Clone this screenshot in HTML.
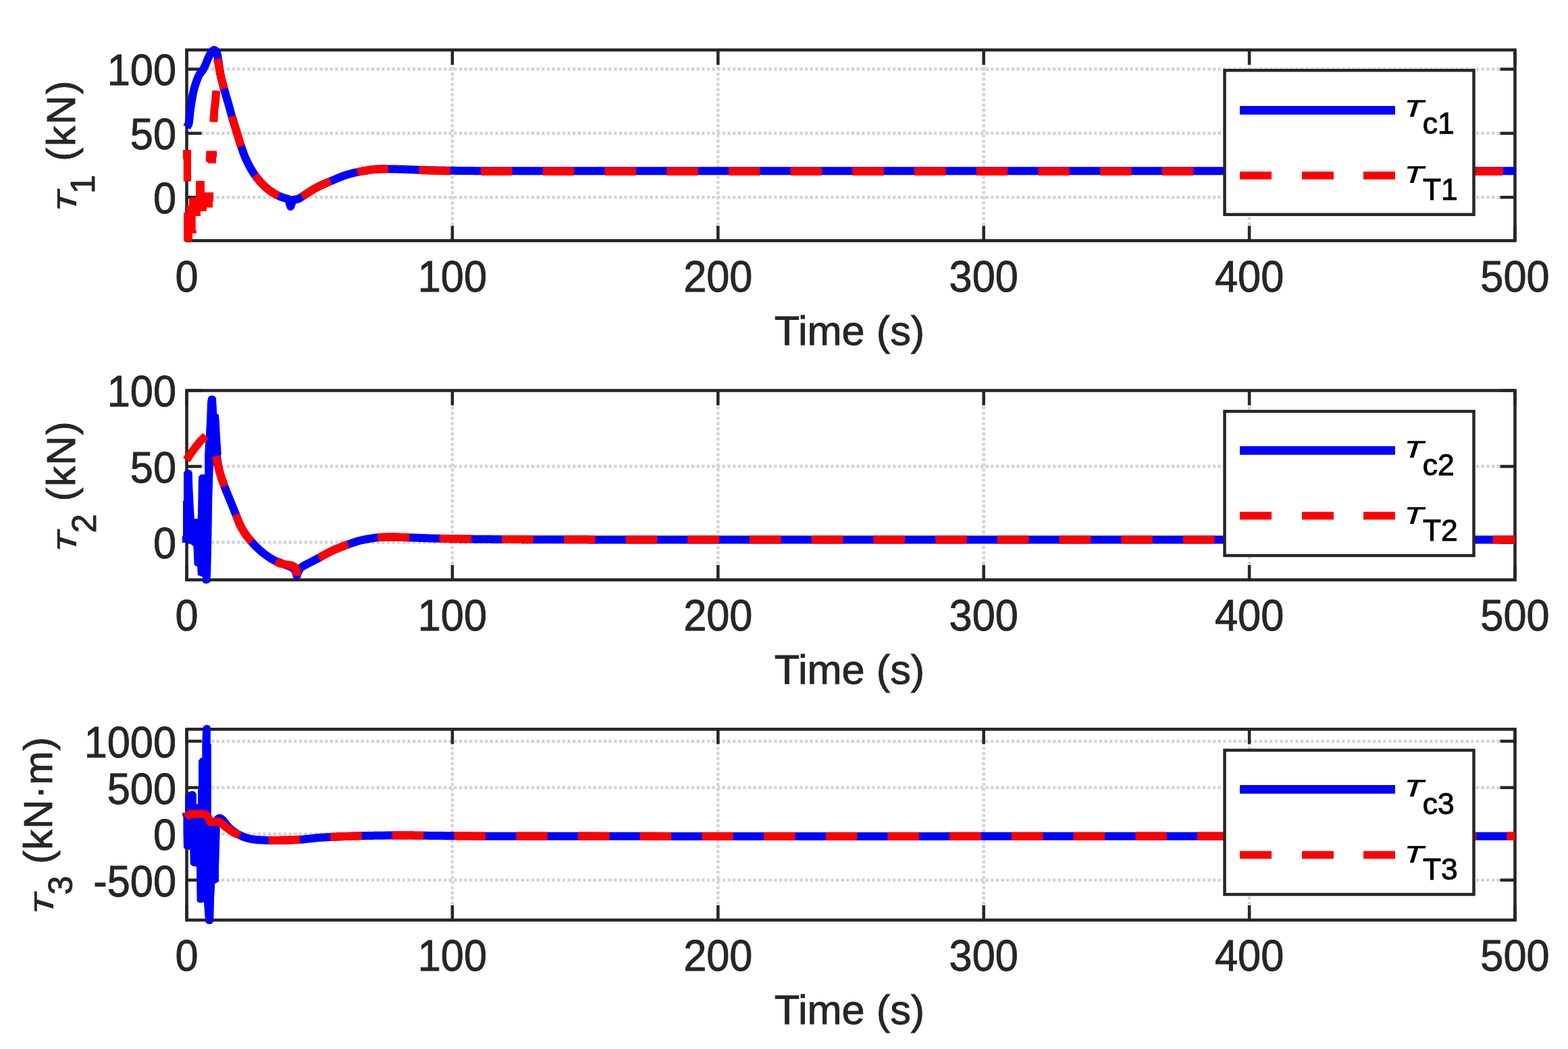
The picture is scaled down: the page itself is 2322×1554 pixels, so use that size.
<!DOCTYPE html><html><head><meta charset="utf-8"><title>Torque plots</title><style>html,body{margin:0;padding:0;background:#fff;overflow:hidden}svg{display:block}</style></head><body><svg width="2322" height="1554" viewBox="0 0 2322 1554">
<rect width="2322" height="1554" fill="#ffffff"/>
<path d="M669.90 356.50V74.00M1063.30 356.50V74.00M1456.70 356.50V74.00M1850.10 356.50V74.00" stroke="#d5d5d5" stroke-width="4.6" stroke-dasharray="4.5 3.145" stroke-dashoffset="0.11" fill="none"/>
<path d="M276.50 102.40H2243.50M276.50 197.40H2243.50M276.50 292.30H2243.50" stroke="#d5d5d5" stroke-width="4.6" stroke-dasharray="4.5 3.145" stroke-dashoffset="1.95" fill="none"/>
<path d="M276.50 356.50V334.50M276.50 74.00V96.00M669.90 356.50V334.50M669.90 74.00V96.00M1063.30 356.50V334.50M1063.30 74.00V96.00M1456.70 356.50V334.50M1456.70 74.00V96.00M1850.10 356.50V334.50M1850.10 74.00V96.00M2243.50 356.50V334.50M2243.50 74.00V96.00M276.50 102.40H298.50M2243.50 102.40H2221.50M276.50 197.40H298.50M2243.50 197.40H2221.50M276.50 292.30H298.50M2243.50 292.30H2221.50" stroke="#262626" stroke-width="4.5" fill="none"/>
<rect x="276.50" y="74.00" width="1967.00" height="282.50" fill="none" stroke="#262626" stroke-width="4.6"/>
<g font-family="'Liberation Sans', Arial, Helvetica, sans-serif" font-size="61.3" fill="#262626" stroke="#262626" stroke-width="0.9"><text transform="translate(276.50 431.80) scale(1 1.045)" text-anchor="middle">0</text><text transform="translate(669.90 431.80) scale(1 1.045)" text-anchor="middle">100</text><text transform="translate(1063.30 431.80) scale(1 1.045)" text-anchor="middle">200</text><text transform="translate(1456.70 431.80) scale(1 1.045)" text-anchor="middle">300</text><text transform="translate(1850.10 431.80) scale(1 1.045)" text-anchor="middle">400</text><text transform="translate(2243.50 431.80) scale(1 1.045)" text-anchor="middle">500</text><text transform="translate(261.00 126.20) scale(1 1.045)" text-anchor="end">100</text><text transform="translate(261.00 221.20) scale(1 1.045)" text-anchor="end">50</text><text transform="translate(261.00 316.10) scale(1 1.045)" text-anchor="end">0</text></g>
<text x="1258.00" y="510.70" font-family="'Liberation Sans', Arial, Helvetica, sans-serif" font-size="61.3" fill="#262626" stroke="#262626" stroke-width="0.9" text-anchor="middle">Time (s)</text>
<path d="M669.90 859.00V578.50M1063.30 859.00V578.50M1456.70 859.00V578.50M1850.10 859.00V578.50" stroke="#d5d5d5" stroke-width="4.6" stroke-dasharray="4.5 3.145" stroke-dashoffset="0.11" fill="none"/>
<path d="M276.50 690.90H2243.50M276.50 803.40H2243.50" stroke="#d5d5d5" stroke-width="4.6" stroke-dasharray="4.5 3.145" stroke-dashoffset="1.95" fill="none"/>
<path d="M276.50 859.00V837.00M276.50 578.50V600.50M669.90 859.00V837.00M669.90 578.50V600.50M1063.30 859.00V837.00M1063.30 578.50V600.50M1456.70 859.00V837.00M1456.70 578.50V600.50M1850.10 859.00V837.00M1850.10 578.50V600.50M2243.50 859.00V837.00M2243.50 578.50V600.50M276.50 578.50H298.50M2243.50 578.50H2221.50M276.50 690.90H298.50M2243.50 690.90H2221.50M276.50 803.40H298.50M2243.50 803.40H2221.50" stroke="#262626" stroke-width="4.5" fill="none"/>
<rect x="276.50" y="578.50" width="1967.00" height="280.50" fill="none" stroke="#262626" stroke-width="4.6"/>
<g font-family="'Liberation Sans', Arial, Helvetica, sans-serif" font-size="61.3" fill="#262626" stroke="#262626" stroke-width="0.9"><text transform="translate(276.50 934.30) scale(1 1.045)" text-anchor="middle">0</text><text transform="translate(669.90 934.30) scale(1 1.045)" text-anchor="middle">100</text><text transform="translate(1063.30 934.30) scale(1 1.045)" text-anchor="middle">200</text><text transform="translate(1456.70 934.30) scale(1 1.045)" text-anchor="middle">300</text><text transform="translate(1850.10 934.30) scale(1 1.045)" text-anchor="middle">400</text><text transform="translate(2243.50 934.30) scale(1 1.045)" text-anchor="middle">500</text><text transform="translate(261.00 602.30) scale(1 1.045)" text-anchor="end">100</text><text transform="translate(261.00 714.70) scale(1 1.045)" text-anchor="end">50</text><text transform="translate(261.00 827.20) scale(1 1.045)" text-anchor="end">0</text></g>
<text x="1258.00" y="1013.20" font-family="'Liberation Sans', Arial, Helvetica, sans-serif" font-size="61.3" fill="#262626" stroke="#262626" stroke-width="0.9" text-anchor="middle">Time (s)</text>
<path d="M669.90 1363.00V1080.30M1063.30 1363.00V1080.30M1456.70 1363.00V1080.30M1850.10 1363.00V1080.30" stroke="#d5d5d5" stroke-width="4.6" stroke-dasharray="4.5 3.145" stroke-dashoffset="0.11" fill="none"/>
<path d="M276.50 1098.10H2243.50M276.50 1166.80H2243.50M276.50 1235.50H2243.50M276.50 1303.70H2243.50" stroke="#d5d5d5" stroke-width="4.6" stroke-dasharray="4.5 3.145" stroke-dashoffset="1.95" fill="none"/>
<path d="M276.50 1363.00V1341.00M276.50 1080.30V1102.30M669.90 1363.00V1341.00M669.90 1080.30V1102.30M1063.30 1363.00V1341.00M1063.30 1080.30V1102.30M1456.70 1363.00V1341.00M1456.70 1080.30V1102.30M1850.10 1363.00V1341.00M1850.10 1080.30V1102.30M2243.50 1363.00V1341.00M2243.50 1080.30V1102.30M276.50 1098.10H298.50M2243.50 1098.10H2221.50M276.50 1166.80H298.50M2243.50 1166.80H2221.50M276.50 1235.50H298.50M2243.50 1235.50H2221.50M276.50 1303.70H298.50M2243.50 1303.70H2221.50" stroke="#262626" stroke-width="4.5" fill="none"/>
<rect x="276.50" y="1080.30" width="1967.00" height="282.70" fill="none" stroke="#262626" stroke-width="4.6"/>
<g font-family="'Liberation Sans', Arial, Helvetica, sans-serif" font-size="61.3" fill="#262626" stroke="#262626" stroke-width="0.9"><text transform="translate(276.50 1438.30) scale(1 1.045)" text-anchor="middle">0</text><text transform="translate(669.90 1438.30) scale(1 1.045)" text-anchor="middle">100</text><text transform="translate(1063.30 1438.30) scale(1 1.045)" text-anchor="middle">200</text><text transform="translate(1456.70 1438.30) scale(1 1.045)" text-anchor="middle">300</text><text transform="translate(1850.10 1438.30) scale(1 1.045)" text-anchor="middle">400</text><text transform="translate(2243.50 1438.30) scale(1 1.045)" text-anchor="middle">500</text><text transform="translate(261.00 1121.90) scale(1 1.045)" text-anchor="end">1000</text><text transform="translate(261.00 1190.60) scale(1 1.045)" text-anchor="end">500</text><text transform="translate(261.00 1259.30) scale(1 1.045)" text-anchor="end">0</text><text transform="translate(261.00 1327.50) scale(1 1.045)" text-anchor="end">-500</text></g>
<text x="1258.00" y="1517.20" font-family="'Liberation Sans', Arial, Helvetica, sans-serif" font-size="61.3" fill="#262626" stroke="#262626" stroke-width="0.9" text-anchor="middle">Time (s)</text>
<path d="M276.50 188.50L277.48 186.97L278.45 185.43L279.30 183.50L279.69 182.06L279.99 180.41L280.24 178.57L280.44 176.61L280.62 174.55L280.78 172.43L280.96 170.31L281.16 168.22L281.40 166.20L281.66 164.31L281.92 162.39L282.20 160.44L282.48 158.49L282.76 156.53L283.06 154.57L283.36 152.63L283.67 150.72L283.98 148.84L284.30 147.00L284.67 144.96L285.04 142.94L285.42 140.94L285.80 138.96L286.20 137.03L286.62 135.14L287.05 133.29L287.50 131.50L288.03 129.54L288.59 127.64L289.16 125.81L289.75 124.02L290.36 122.25L291.00 120.50L291.61 118.84L292.23 117.20L292.86 115.58L293.53 113.99L294.24 112.46L295.00 111.00L295.94 109.50L296.96 108.08L298.02 106.72L299.05 105.37L300.00 104.00L300.97 102.42L301.86 100.87L302.72 99.26L303.60 97.50L304.36 95.83L305.11 94.01L305.87 92.10L306.63 90.17L307.40 88.28L308.20 86.50L309.07 84.61L309.95 82.73L310.85 80.92L311.79 79.25L312.80 77.80L314.23 76.06L315.75 74.59L317.20 74.00L318.49 74.54L319.73 75.83L320.80 77.50L321.38 78.82L321.83 80.38L322.20 82.13L322.51 84.02L322.79 85.99L323.08 88.01L323.40 90.00L323.68 91.70L323.94 93.45L324.18 95.25L324.41 97.09L324.64 98.96L324.89 100.86L325.14 102.78L325.43 104.72L325.74 106.66L326.10 108.60L326.47 110.41L326.86 112.25L327.29 114.11L327.73 115.99L328.19 117.88L328.67 119.79L329.17 121.69L329.67 123.60L330.17 125.51L330.68 127.42L331.19 129.32L331.70 131.20L332.21 133.08L332.74 134.97L333.28 136.87L333.82 138.76L334.38 140.65L334.93 142.54L335.49 144.42L336.04 146.30L336.60 148.17L337.14 150.02L337.68 151.87L338.20 153.70L338.72 155.56L339.24 157.40L339.74 159.22L340.23 161.03L340.72 162.83L341.21 164.63L341.71 166.43L342.21 168.25L342.73 170.08L343.25 171.92L343.80 173.80L344.32 175.54L344.85 177.31L345.39 179.09L345.94 180.89L346.50 182.70L347.06 184.52L347.63 186.34L348.20 188.16L348.77 189.97L349.34 191.78L349.90 193.57L350.45 195.34L351.00 197.10L351.60 199.04L352.18 200.98L352.76 202.89L353.32 204.80L353.89 206.70L354.46 208.60L355.04 210.48L355.63 212.36L356.23 214.24L356.85 216.12L357.50 218.00L358.10 219.73L358.71 221.45L359.31 223.17L359.93 224.88L360.55 226.60L361.19 228.31L361.85 230.02L362.52 231.72L363.22 233.42L363.95 235.12L364.71 236.81L365.50 238.50L366.29 240.14L367.10 241.78L367.94 243.43L368.79 245.07L369.66 246.72L370.56 248.36L371.48 249.99L372.43 251.61L373.40 253.22L374.40 254.82L375.44 256.40L376.50 257.96L377.60 259.50L378.70 260.99L379.84 262.48L381.01 263.97L382.21 265.46L383.45 266.94L384.70 268.41L385.99 269.85L387.28 271.28L388.60 272.67L389.93 274.03L391.27 275.34L392.61 276.62L393.95 277.84L395.30 279.00L396.85 280.27L398.42 281.49L400.03 282.67L401.65 283.79L403.29 284.88L404.93 285.91L406.57 286.89L408.20 287.82L409.82 288.70L411.43 289.53L413.00 290.30L414.79 291.10L416.55 291.78L418.31 292.38L420.05 292.92L421.78 293.43L423.52 293.93L425.26 294.44L427.00 295.00L427.55 296.83L428.10 298.67L428.65 300.50L429.20 302.33L429.75 304.17L430.30 306.00L430.92 304.33L431.53 302.67L432.15 301.00L432.77 299.33L433.38 297.67L434.00 296.00L435.62 295.77L437.27 295.58L438.90 295.37L440.49 295.06L442.00 294.60L443.61 293.82L445.06 292.85L446.58 291.74L448.40 290.50L449.68 289.68L451.10 288.77L452.64 287.77L454.27 286.70L455.99 285.59L457.76 284.45L459.57 283.30L461.40 282.16L463.22 281.04L465.03 279.96L466.79 278.94L468.50 278.00L470.17 277.12L471.82 276.28L473.44 275.48L475.07 274.71L476.69 273.96L478.32 273.23L479.98 272.50L481.66 271.77L483.39 271.04L485.16 270.28L487.00 269.50L488.58 268.82L490.20 268.13L491.84 267.42L493.52 266.69L495.23 265.96L496.96 265.23L498.71 264.49L500.49 263.76L502.27 263.03L504.07 262.32L505.89 261.62L507.70 260.94L509.53 260.29L511.35 259.66L513.18 259.06L515.00 258.50L516.89 257.95L518.84 257.42L520.82 256.91L522.83 256.41L524.87 255.94L526.91 255.48L528.96 255.04L531.00 254.63L533.03 254.23L535.03 253.85L537.00 253.49L538.92 253.15L540.80 252.83L542.60 252.53L544.34 252.26L546.00 252.00L548.16 251.68L550.13 251.41L551.99 251.19L553.79 251.01L555.58 250.85L557.44 250.72L559.43 250.60L561.60 250.50L563.25 250.44L564.97 250.39L566.76 250.36L568.61 250.34L570.51 250.33L572.45 250.34L574.43 250.35L576.44 250.38L578.47 250.40L580.51 250.44L582.56 250.48L584.60 250.52L586.64 250.57L588.65 250.61L590.64 250.66L592.60 250.70L594.53 250.74L596.43 250.80L598.32 250.85L600.20 250.92L602.08 250.99L603.95 251.06L605.83 251.13L607.71 251.21L609.61 251.29L611.52 251.37L613.45 251.44L615.41 251.52L617.40 251.60L619.43 251.67L621.49 251.74L623.60 251.80L625.35 251.85L627.14 251.90L628.95 251.95L630.79 252.00L632.66 252.04L634.54 252.09L636.45 252.14L638.37 252.18L640.31 252.23L642.27 252.27L644.23 252.32L646.21 252.36L648.20 252.40L650.19 252.45L652.18 252.49L654.18 252.53L656.18 252.56L658.17 252.60L660.17 252.64L662.15 252.67L664.13 252.71L666.10 252.74L668.06 252.77L670.00 252.80L671.93 252.83L673.84 252.86L675.73 252.88L677.60 252.91L679.47 252.93L681.33 252.95L683.18 252.97L685.03 252.99L686.88 253.01L688.73 253.03L690.59 253.04L692.45 253.06L694.33 253.07L696.22 253.09L698.13 253.10L700.07 253.11L702.02 253.13L704.00 253.14L706.01 253.15L708.05 253.16L710.13 253.17L712.24 253.18L714.40 253.19L716.60 253.20L718.28 253.21L719.94 253.21L721.57 253.22L723.18 253.22L724.78 253.23L726.36 253.23L727.92 253.24L729.48 253.24L731.03 253.24L732.59 253.24L734.14 253.24L735.69 253.24L737.26 253.25L738.83 253.25L740.42 253.25L742.02 253.24L743.65 253.24L745.30 253.24L746.97 253.24L748.67 253.24L750.41 253.24L752.18 253.24L753.99 253.23L755.84 253.23L757.74 253.23L759.69 253.23L761.69 253.23L763.74 253.22L765.85 253.22L768.02 253.22L770.26 253.22L772.56 253.21L774.94 253.21L777.38 253.21L779.91 253.21L782.51 253.21L785.20 253.20L787.98 253.20L790.84 253.20L793.80 253.20L796.85 253.20L800.00 253.20L809.81 253.20L820.58 253.20L832.28 253.20L844.89 253.20L858.39 253.20L872.74 253.20L887.93 253.20L903.93 253.20L920.72 253.20L938.26 253.20L956.55 253.20L975.54 253.20L995.23 253.20L1015.57 253.20L1036.56 253.20L1058.16 253.20L1080.34 253.20L1103.10 253.20L1126.39 253.20L1150.20 253.20L1174.50 253.20L1199.26 253.20L1224.47 253.20L1250.10 253.20L1276.12 253.20L1302.50 253.20L1329.24 253.20L1356.29 253.20L1383.63 253.20L1411.25 253.20L1439.11 253.20L1467.19 253.20L1495.47 253.20L1523.92 253.20L1552.51 253.20L1581.23 253.20L1610.05 253.20L1638.94 253.20L1667.88 253.20L1696.85 253.20L1725.81 253.20L1754.76 253.20L1783.65 253.20L1812.47 253.20L1841.19 253.20L1869.78 253.20L1898.23 253.20L1926.51 253.20L1954.59 253.20L1982.45 253.20L2010.07 253.20L2037.41 253.20L2064.46 253.20L2091.19 253.20L2117.58 253.20L2143.60 253.20L2169.23 253.20L2194.43 253.20L2219.20 253.20L2243.50 253.20" stroke="#0000ff" stroke-width="12.0" fill="none" stroke-linejoin="round" stroke-linecap="butt"/>
<path d="M712.10 253.98L712.24 253.98L714.40 253.99L716.60 254.00L718.28 254.01L719.94 254.02L721.57 254.02L723.18 254.03L724.78 254.04L726.36 254.04L727.92 254.04L729.48 254.05L731.03 254.05L732.59 254.05L734.14 254.05L735.69 254.06L737.26 254.06L738.83 254.06L740.42 254.06L742.02 254.06L743.65 254.05L745.30 254.05L746.97 254.05L748.67 254.05L750.41 254.05L752.18 254.05L753.99 254.04L755.84 254.04L757.74 254.04L758.60 254.04M803.80 254.00L809.81 254.00L820.58 254.00L832.28 254.00L844.89 254.00L850.30 254.00M895.50 254.00L903.93 254.00L920.72 254.00L938.26 254.00L942.00 254.00M987.20 254.00L995.23 254.00L1015.57 254.00L1033.70 254.00M1078.90 254.00L1080.34 254.00L1103.10 254.00L1125.40 254.00M1170.60 254.00L1174.50 254.00L1199.26 254.00L1217.10 254.00M1262.30 254.00L1276.12 254.00L1302.50 254.00L1308.80 254.00M1354.00 254.00L1356.29 254.00L1383.63 254.00L1400.50 254.00M1445.70 254.00L1467.19 254.00L1492.20 254.00M1537.40 254.00L1552.51 254.00L1581.23 254.00L1583.90 254.00M1629.10 254.00L1638.94 254.00L1667.88 254.00L1675.60 254.00M1720.80 254.00L1725.81 254.00L1754.76 254.00L1767.30 254.00M1812.50 254.00L1841.19 254.00L1859.00 254.00M1904.20 254.00L1926.51 254.00L1950.70 254.00M1995.90 254.00L2010.07 254.00L2037.41 254.00L2042.40 254.00M2087.60 254.00L2091.19 254.00L2117.58 254.00L2134.10 254.00M2179.30 254.00L2194.43 254.00L2219.20 254.00L2225.80 254.00M321.60 87.23L321.76 87.85L322.23 89.57L322.70 91.30L323.16 93.09L323.60 95.00L323.96 96.76L324.29 98.57L324.61 100.45L324.94 102.38L325.28 104.39L325.66 106.46L326.10 108.60L326.47 110.29L326.87 112.04L327.29 113.86L327.74 115.73L328.20 117.63L328.68 119.56L329.17 121.51L329.67 123.47L330.18 125.43L330.68 127.38L331.19 129.30L331.70 131.20M343.40 172.42L343.80 173.80L344.32 175.54L344.85 177.31L345.39 179.09L345.94 180.89L346.50 182.70L347.06 184.52L347.63 186.34L348.20 188.16L348.77 189.97L349.34 191.78L349.90 193.57L350.45 195.34L351.00 197.10L351.60 199.04L352.18 200.98L352.76 202.89L353.32 204.80L353.89 206.70L354.46 208.60L355.04 210.48L355.63 212.36L356.23 214.24L356.85 216.12L357.10 216.84M377.70 259.64L378.70 260.99L379.84 262.48L381.01 263.97L382.21 265.46L383.45 266.94L384.70 268.41L385.99 269.85L387.28 271.28L388.60 272.67L389.93 274.03L391.27 275.34L392.61 276.62L393.95 277.84L395.30 279.00L396.84 280.27L398.41 281.49L399.99 282.67L401.59 283.80L403.21 284.89L404.84 285.92L406.47 286.90L408.10 287.83L409.74 288.71L411.37 289.53L412.10 289.88M447.40 291.20L448.40 290.50L449.68 289.68L451.10 288.77L452.64 287.77L454.27 286.70L455.99 285.59L457.76 284.45L459.57 283.30L461.40 282.16L463.22 281.04L465.03 279.96L466.79 278.94L468.50 278.00L470.17 277.12L471.82 276.28L473.44 275.48L475.07 274.71L476.69 273.96L478.32 273.23L479.98 272.50L481.66 271.77L483.39 271.04L485.16 270.28L487.00 269.50L488.58 268.82L489.50 268.43M529.00 255.04L531.00 254.63L533.03 254.23L535.03 253.85L537.00 253.49L538.92 253.15L540.80 252.83L542.60 252.53L544.34 252.26L546.00 252.00L548.16 251.68L550.13 251.41L551.99 251.19L553.79 251.00L555.58 250.84L557.44 250.71L559.43 250.60L561.60 250.50L563.25 250.44L564.97 250.40L566.76 250.38L568.61 250.37L570.51 250.38L572.45 250.40L574.43 250.42L574.90 250.43M620.50 252.08L621.49 252.12L623.60 252.20L625.35 252.26L627.14 252.32L628.95 252.38L630.79 252.44L632.66 252.51L634.54 252.57L636.45 252.63L638.37 252.69L640.31 252.75L642.27 252.80L644.23 252.86L646.21 252.92L648.20 252.98L650.19 253.03L652.18 253.09L654.18 253.14L656.18 253.19L658.17 253.24L660.17 253.29L662.15 253.33L664.13 253.38L666.10 253.42L666.80 253.44" stroke="#ff0000" stroke-width="12.0" fill="none" stroke-linejoin="round" stroke-linecap="butt"/>
<path d="M320.20 134.30L319.00 150.00L317.20 165.00L316.40 180.70" stroke="#ff0000" stroke-width="12.0" fill="none" stroke-linejoin="round" stroke-linecap="butt"/>
<path d="M290.00 268.00L303.00 268.00L303.00 285.00L316.00 285.00L316.00 299.00L315.00 299.00L315.00 307.60L306.00 307.60L306.00 312.70L297.00 312.70L297.00 320.00L289.70 320.00L289.70 341.00L290.70 341.00L290.70 345.70L285.00 345.70L285.00 357.50L272.00 357.50L272.00 314.80L275.80 314.80L275.80 304.00L280.00 304.00L280.00 292.70L290.00 292.70ZM305.50 223.50L320.50 223.50L321.20 226.00L321.20 233.00L320.00 233.00L320.00 242.00L308.00 242.00L308.00 240.00L305.00 240.00L305.00 232.00ZM271.00 222.00L283.00 222.00L283.00 268.80L271.80 268.80L271.80 236.00L271.00 236.00Z" fill="#ff0000"/>
<path d="M308.00 589.50L309.50 587.00L313.70 585.80L318.00 587.00L320.00 589.50L321.00 612.50L323.90 614.40L324.80 624.00L325.80 643.40L326.80 658.80L327.70 672.30L326.00 680.00L316.00 690.00L315.50 700.00L314.20 741.00L313.40 794.00L312.20 847.50L311.30 862.50L306.00 864.80L300.90 863.70L299.70 854.40L292.80 852.00L292.20 839.40L287.60 837.00L286.40 809.20L280.00 804.00L269.90 804.00L269.90 794.00L271.00 794.00L271.00 742.00L272.00 742.00L272.00 700.40L274.00 697.00L278.40 695.60L283.00 697.00L284.70 700.00L285.30 720.00L286.40 743.00L287.60 764.00L287.60 768.50L292.80 768.50L293.40 738.60L294.00 706.20L297.40 702.70L303.20 702.70L303.10 674.00L304.10 657.00L306.00 624.00L307.00 597.00Z" fill="#0000ff"/>
<path d="M313.70 592.00L313.83 593.86L313.95 595.73L314.07 597.58L314.19 599.44L314.31 601.30L314.43 603.15L314.55 605.01L314.67 606.87L314.79 608.73L314.92 610.60L315.04 612.47L315.18 614.34L315.31 616.22L315.45 618.11L315.60 620.00L315.75 621.85L315.90 623.72L316.06 625.61L316.22 627.51L316.39 629.41L316.55 631.32L316.72 633.24L316.90 635.15L317.07 637.05L317.25 638.95L317.42 640.84L317.60 642.71L317.78 644.57L317.95 646.40L318.13 648.22L318.30 650.00L318.49 651.93L318.66 653.84L318.84 655.72L319.01 657.59L319.18 659.43L319.35 661.26L319.53 663.09L319.71 664.90L319.90 666.71L320.11 668.52L320.32 670.34L320.55 672.16L320.80 674.00L321.06 675.85L321.32 677.71L321.59 679.58L321.86 681.44L322.14 683.31L322.44 685.17L322.75 687.03L323.07 688.88L323.41 690.73L323.77 692.57L324.16 694.39L324.57 696.20L325.00 698.00L325.49 699.88L326.00 701.73L326.55 703.58L327.12 705.41L327.71 707.23L328.31 709.05L328.94 710.85L329.57 712.66L330.22 714.47L330.88 716.27L331.54 718.08L332.20 719.90L332.89 721.76L333.60 723.62L334.32 725.49L335.06 727.35L335.82 729.22L336.58 731.08L337.34 732.94L338.10 734.79L338.86 736.64L339.62 738.47L340.37 740.29L341.10 742.10L341.85 743.97L342.60 745.83L343.35 747.68L344.10 749.53L344.85 751.37L345.59 753.20L346.32 755.02L347.05 756.82L347.78 758.60L348.49 760.36L349.20 762.10L349.96 764.01L350.70 765.91L351.42 767.79L352.13 769.65L352.85 771.49L353.57 773.30L354.32 775.07L355.09 776.81L355.90 778.50L356.75 780.18L357.62 781.81L358.51 783.40L359.42 784.96L360.36 786.49L361.31 788.01L362.29 789.51L363.30 791.00L364.32 792.46L365.35 793.89L366.39 795.28L367.46 796.67L368.57 798.05L369.72 799.44L370.93 800.86L372.20 802.30L373.37 803.60L374.58 804.93L375.85 806.29L377.15 807.66L378.48 809.04L379.85 810.42L381.24 811.79L382.66 813.14L384.09 814.46L385.54 815.75L387.00 817.00L388.53 818.25L390.12 819.52L391.77 820.78L393.44 822.03L395.14 823.26L396.83 824.45L398.51 825.59L400.15 826.66L401.74 827.66L403.26 828.58L404.70 829.40L406.38 830.27L407.95 830.98L409.47 831.59L410.96 832.15L412.45 832.70L414.00 833.30L415.66 833.96L417.34 834.62L419.04 835.27L420.73 835.92L422.39 836.57L424.00 837.20L425.72 837.85L427.44 838.48L429.11 839.10L430.68 839.77L432.10 840.50L433.77 841.50L435.23 842.59L436.50 844.00L437.32 845.48L437.99 847.24L438.56 849.16L439.11 851.12L439.70 853.00L440.22 851.36L440.71 849.68L441.21 848.02L441.79 846.44L442.50 845.00L443.42 843.60L444.45 842.34L445.62 841.17L447.00 840.00L448.25 839.10L449.67 838.24L451.21 837.39L452.83 836.56L454.48 835.74L456.12 834.92L457.70 834.10L459.23 833.29L460.74 832.51L462.26 831.73L463.79 830.95L465.33 830.16L466.90 829.35L468.50 828.50L470.12 827.62L471.78 826.69L473.46 825.74L475.17 824.78L476.88 823.81L478.60 822.85L480.31 821.91L482.00 821.00L483.61 820.15L485.18 819.32L486.74 818.51L488.30 817.70L489.89 816.90L491.52 816.11L493.22 815.31L495.00 814.50L496.54 813.83L498.14 813.15L499.79 812.46L501.49 811.77L503.22 811.08L504.97 810.39L506.75 809.71L508.52 809.04L510.30 808.38L512.06 807.73L513.79 807.11L515.50 806.50L517.41 805.83L519.29 805.16L521.15 804.52L523.01 803.88L524.87 803.27L526.74 802.67L528.62 802.09L530.54 801.54L532.50 801.00L534.50 800.50L536.26 800.09L538.06 799.69L539.90 799.30L541.77 798.93L543.66 798.58L545.57 798.24L547.48 797.92L549.39 797.62L551.28 797.33L553.16 797.07L555.01 796.82L556.83 796.60L558.60 796.40L560.56 796.20L562.46 796.04L564.32 795.90L566.15 795.79L567.96 795.70L569.79 795.64L571.64 795.59L573.53 795.55L575.48 795.52L577.50 795.50L579.29 795.49L581.10 795.50L582.93 795.53L584.79 795.57L586.67 795.62L588.57 795.68L590.51 795.75L592.47 795.83L594.47 795.91L596.50 795.99L598.57 796.07L600.67 796.15L602.82 796.23L605.00 796.30L606.73 796.36L608.50 796.41L610.31 796.47L612.14 796.54L614.00 796.60L615.89 796.67L617.81 796.74L619.75 796.81L621.70 796.88L623.68 796.95L625.67 797.03L627.67 797.10L629.69 797.17L631.71 797.24L633.74 797.31L635.77 797.38L637.80 797.45L639.83 797.51L641.86 797.57L643.89 797.64L645.90 797.69L647.91 797.75L649.90 797.80L651.78 797.85L653.65 797.89L655.50 797.93L657.34 797.97L659.17 798.01L660.99 798.05L662.81 798.09L664.64 798.12L666.46 798.16L668.29 798.19L670.12 798.22L671.96 798.25L673.82 798.28L675.69 798.31L677.58 798.34L679.49 798.37L681.42 798.39L683.37 798.42L685.36 798.45L687.37 798.47L689.42 798.50L691.51 798.52L693.63 798.55L695.79 798.57L698.00 798.60L699.68 798.62L701.39 798.64L703.11 798.66L704.86 798.67L706.63 798.69L708.42 798.71L710.23 798.73L712.06 798.74L713.91 798.76L715.77 798.78L717.65 798.79L719.55 798.81L721.47 798.82L723.39 798.84L725.34 798.85L727.30 798.87L729.27 798.88L731.25 798.90L733.25 798.91L735.25 798.92L737.27 798.94L739.30 798.95L741.34 798.96L743.38 798.97L745.44 798.99L747.50 799.00L749.57 799.01L751.65 799.02L753.73 799.03L755.82 799.04L757.91 799.05L760.00 799.07L762.10 799.08L764.20 799.09L766.31 799.10L768.41 799.11L770.52 799.12L772.62 799.13L774.73 799.14L776.83 799.15L778.94 799.16L781.04 799.16L783.13 799.17L785.23 799.18L787.32 799.19L789.40 799.20L791.27 799.21L793.10 799.22L794.91 799.22L796.69 799.23L798.44 799.24L800.17 799.24L801.88 799.25L803.58 799.25L805.25 799.26L806.91 799.27L808.56 799.27L810.19 799.28L811.82 799.28L813.44 799.29L815.05 799.29L816.66 799.29L818.27 799.30L819.87 799.30L821.48 799.31L823.10 799.31L824.72 799.31L826.34 799.32L827.98 799.32L829.63 799.32L831.29 799.33L832.97 799.33L834.67 799.33L836.38 799.34L838.12 799.34L839.88 799.34L841.66 799.34L843.47 799.35L845.31 799.35L847.18 799.35L849.08 799.35L851.02 799.35L853.00 799.36L855.01 799.36L857.06 799.36L859.16 799.36L861.30 799.37L863.49 799.37L865.72 799.37L868.00 799.37L870.34 799.37L872.73 799.38L875.17 799.38L877.68 799.38L880.24 799.38L882.86 799.38L885.55 799.39L888.30 799.39L891.12 799.39L894.01 799.39L896.97 799.40L900.00 799.40L910.39 799.41L921.60 799.42L933.58 799.42L946.33 799.43L959.83 799.44L974.05 799.44L988.97 799.45L1004.58 799.45L1020.85 799.46L1037.76 799.46L1055.28 799.47L1073.41 799.47L1092.12 799.47L1111.39 799.47L1131.19 799.48L1151.51 799.48L1172.33 799.48L1193.62 799.48L1215.37 799.48L1237.55 799.48L1260.14 799.48L1283.13 799.48L1306.49 799.48L1330.20 799.48L1354.24 799.48L1378.60 799.48L1403.24 799.47L1428.15 799.47L1453.31 799.47L1478.70 799.47L1504.29 799.47L1530.07 799.46L1556.01 799.46L1582.10 799.46L1608.32 799.45L1634.63 799.45L1661.03 799.45L1687.50 799.45L1714.00 799.44L1740.52 799.44L1767.05 799.44L1793.55 799.43L1820.01 799.43L1846.41 799.43L1872.73 799.43L1898.94 799.42L1925.03 799.42L1950.98 799.42L1976.76 799.41L2002.35 799.41L2027.74 799.41L2052.90 799.41L2077.81 799.41L2102.45 799.40L2126.80 799.40L2150.85 799.40L2174.56 799.40L2197.92 799.40L2220.90 799.40L2243.50 799.40" stroke="#0000ff" stroke-width="12.0" fill="none" stroke-linejoin="round" stroke-linecap="butt"/>
<path d="M743.30 798.97L743.38 798.97L745.44 798.99L747.50 799.00L749.57 799.01L751.65 799.02L753.73 799.03L755.82 799.04L757.91 799.05L760.00 799.07L762.10 799.08L764.20 799.09L766.31 799.10L768.41 799.11L770.52 799.12L772.62 799.13L774.73 799.14L776.83 799.15L778.94 799.16L781.04 799.16L783.13 799.17L785.23 799.18L787.32 799.19L789.40 799.20L789.80 799.20M835.00 799.33L836.38 799.34L838.12 799.34L839.88 799.34L841.66 799.34L843.47 799.35L845.31 799.35L847.18 799.35L849.08 799.35L851.02 799.35L853.00 799.36L855.01 799.36L857.06 799.36L859.16 799.36L861.30 799.37L863.49 799.37L865.72 799.37L868.00 799.37L870.34 799.37L872.73 799.38L875.17 799.38L877.68 799.38L880.24 799.38L881.50 799.38M926.70 799.42L933.58 799.42L946.33 799.43L959.83 799.44L973.20 799.44M1018.40 799.46L1020.85 799.46L1037.76 799.46L1055.28 799.47L1064.90 799.47M1110.10 799.47L1111.39 799.47L1131.19 799.48L1151.51 799.48L1156.60 799.48M1201.80 799.48L1215.37 799.48L1237.55 799.48L1248.30 799.48M1293.50 799.48L1306.49 799.48L1330.20 799.48L1340.00 799.48M1385.20 799.47L1403.24 799.47L1428.15 799.47L1431.70 799.47M1476.90 799.47L1478.70 799.47L1504.29 799.47L1523.40 799.46M1568.60 799.46L1582.10 799.46L1608.32 799.45L1615.10 799.45M1660.30 799.45L1661.03 799.45L1687.50 799.45L1706.80 799.44M1752.00 799.44L1767.05 799.44L1793.55 799.43L1798.50 799.43M1843.70 799.43L1846.41 799.43L1872.73 799.43L1890.20 799.42M1935.40 799.42L1950.98 799.42L1976.76 799.41L1981.90 799.41M2027.10 799.41L2027.74 799.41L2052.90 799.41L2073.60 799.41M2118.80 799.40L2126.80 799.40L2150.85 799.40L2165.30 799.40M2210.50 799.40L2220.90 799.40L2243.50 799.40M319.60 675.50L319.75 676.13L319.90 676.75L320.04 677.38L320.19 678.00L320.33 678.63L320.48 679.26L320.62 679.88L320.76 680.51L320.91 681.14L321.05 681.77L321.19 682.39L321.33 683.02L321.47 683.65L321.62 684.28L321.76 684.90L321.90 685.53L322.04 686.16L322.19 686.78L322.33 687.41L322.48 688.04L322.62 688.66L322.77 689.29L322.92 689.92L323.07 690.54L323.22 691.17L323.37 691.79L323.52 692.41L323.68 693.04L323.84 693.66L323.99 694.28L324.16 694.90L324.32 695.52L324.49 696.14L324.66 696.76L324.83 697.38L325.00 698.00L325.18 698.61L325.35 699.23L325.53 699.84L325.71 700.46L325.90 701.07L326.08 701.68L326.26 702.29L326.45 702.91L326.64 703.52L326.83 704.13L327.02 704.74L327.21 705.35L327.40 705.95L327.60 706.56L327.79 707.17L327.99 707.78L328.19 708.38L328.39 708.99L328.59 709.60L328.80 710.20L329.00 710.81L329.21 711.42L329.41 712.02L329.62 712.63L329.83 713.23L330.04 713.84L330.25 714.45L330.46 715.05L330.68 715.66L330.89 716.26L331.11 716.87L331.32 717.47L331.54 718.08L331.76 718.69L331.98 719.29L332.20 719.90L332.43 720.52M349.20 762.10L349.39 762.58L349.58 763.05L349.77 763.53L349.96 764.01L350.15 764.48L350.33 764.96L350.52 765.43L350.70 765.91L350.88 766.38L351.06 766.85L351.24 767.32L351.42 767.79L351.66 768.41L351.90 769.03L352.13 769.65L352.37 770.26L352.61 770.88L352.85 771.49L353.09 772.09L353.33 772.69L353.57 773.30L353.82 773.89L354.07 774.48L354.32 775.07L354.58 775.65L354.83 776.23L355.09 776.81L355.36 777.37L355.63 777.94L355.90 778.50L356.18 779.06L356.47 779.62L356.75 780.18L357.04 780.72L357.33 781.27L357.62 781.81L357.92 782.34L358.22 782.87L358.51 783.40L358.82 783.92L359.12 784.44L359.42 784.96L359.73 785.47L360.05 785.98L360.36 786.49L360.67 787.00L360.99 787.50L361.31 788.01L361.64 788.51L361.97 789.01L362.29 789.51L362.63 790.01L362.96 790.50L363.30 791.00L363.64 791.49L363.98 791.97L364.32 792.46L364.66 792.94L365.00 793.41L365.35 793.89L365.69 794.35L366.04 794.82L366.39 795.28L366.75 795.75L367.10 796.21L367.46 796.67L367.83 797.13L368.20 797.59L368.57 798.05L368.95 798.52L369.34 798.98L369.72 799.44L370.13 799.91L370.53 800.39L370.93 800.86L371.35 801.34L371.78 801.82L372.20 802.30M408.44 831.60L408.93 831.92L409.42 832.23L409.91 832.51L410.40 832.80L410.89 833.08L411.39 833.33L411.89 833.59L412.40 833.84L412.93 834.06L413.47 834.28L414.00 834.50L414.59 834.68L415.18 834.86L415.77 835.04L416.38 835.17L417.00 835.30L417.62 835.43L418.25 835.53L418.88 835.63L419.52 835.73L420.15 835.81L420.78 835.90L421.41 835.98L422.02 836.06L422.64 836.14L423.25 836.22L423.83 836.31L424.42 836.41L425.00 836.50L425.58 836.59L426.15 836.68L426.73 836.77L427.29 836.83L427.86 836.90L428.43 836.97L428.97 837.05L429.52 837.12L430.07 837.20L430.58 837.30L431.09 837.41L431.60 837.52L432.30 837.76L433.00 838.00L433.58 838.31L434.16 838.63L434.74 838.94L435.25 839.33L435.75 839.73L436.26 840.12L436.67 840.58L437.09 841.04L437.50 841.50L437.81 842.06L438.12 842.61L438.42 843.17L438.64 843.80L438.85 844.43L439.06 845.06L439.21 845.71L439.35 846.35L439.50 847.00L439.59 847.73L439.68 848.47L439.69 848.97L439.70 849.47L439.71 849.97L439.71 850.48L439.70 850.98L439.69 851.49L439.70 851.99L439.70 852.50L439.70 853.00M472.34 826.38L472.90 826.06L473.46 825.74L474.03 825.42L474.60 825.10L475.17 824.78L475.74 824.45L476.31 824.13L476.88 823.81L477.45 823.49L478.03 823.17L478.60 822.85L479.17 822.53L479.74 822.22L480.31 821.91L480.87 821.60L481.44 821.30L482.00 821.00L482.54 820.72L483.07 820.43L483.61 820.15L484.13 819.87L484.66 819.60L485.18 819.32L485.70 819.05L486.22 818.78L486.74 818.51L487.26 818.24L487.78 817.97L488.30 817.70L488.83 817.44L489.36 817.17L489.89 816.90L490.43 816.64L490.98 816.37L491.52 816.11L492.09 815.84L492.65 815.57L493.22 815.31L493.81 815.04L494.41 814.77L495.00 814.50L495.51 814.28L496.02 814.05L496.54 813.83L497.07 813.60L497.60 813.37L498.14 813.15L498.69 812.92L499.24 812.69L499.79 812.46L500.35 812.23L500.92 812.00L501.49 811.77L502.06 811.54L502.64 811.31L503.22 811.08L503.80 810.85L504.39 810.62L504.97 810.39L505.56 810.16L506.15 809.94L506.75 809.71L507.34 809.49L507.93 809.26L508.52 809.04L509.11 808.82L509.71 808.60L510.30 808.38L510.88 808.16L511.47 807.95L512.06 807.73L512.64 807.52L513.22 807.31L513.79 807.11L514.36 806.90L514.93 806.70L515.50 806.50M559.25 796.33L559.91 796.27L560.56 796.20L561.19 796.15L561.83 796.09L562.46 796.04L563.08 795.99L563.70 795.94L564.32 795.90L564.93 795.86L565.54 795.83L566.15 795.79L566.75 795.76L567.36 795.73L567.96 795.70L568.57 795.68L569.18 795.66L569.79 795.64L570.40 795.62L571.02 795.60L571.64 795.59L572.27 795.57L572.90 795.56L573.53 795.55L574.18 795.54L574.83 795.53L575.48 795.52L575.98 795.52L576.49 795.51L576.99 795.51L577.50 795.50L578.10 795.50L578.69 795.50L579.29 795.49L579.89 795.50L580.50 795.50L581.10 795.50L581.71 795.51L582.32 795.52L582.93 795.53L583.55 795.54L584.17 795.56L584.79 795.57L585.41 795.59L586.04 795.60L586.67 795.62L587.30 795.64L587.94 795.66L588.57 795.68L589.22 795.70L589.86 795.73L590.51 795.75L591.16 795.78L591.82 795.80L592.47 795.83L593.14 795.85L593.81 795.88L594.47 795.91L594.98 795.93L595.49 795.95L596.00 795.97L596.50 795.99L597.02 796.01L597.54 796.03L598.05 796.05L598.57 796.07L599.10 796.09L599.62 796.11L600.15 796.13L600.67 796.15L601.21 796.17L601.75 796.19L602.28 796.21L602.82 796.23L603.36 796.25L603.91 796.26L604.45 796.28L605.00 796.30L605.58 796.32L606.16 796.34M650.53 797.82L651.15 797.83L651.78 797.85L652.40 797.86L653.02 797.88L653.65 797.89L654.26 797.91L654.88 797.92L655.50 797.93L656.11 797.95L656.72 797.96L657.34 797.97L657.95 797.99L658.56 798.00L659.17 798.01L659.78 798.03L660.39 798.04L660.99 798.05L661.60 798.06L662.21 798.08L662.81 798.09L663.42 798.10L664.03 798.11L664.64 798.12L665.24 798.13L665.85 798.15L666.46 798.16L667.07 798.17L667.68 798.18L668.29 798.19L668.90 798.20L669.51 798.21L670.12 798.22L670.73 798.23L671.35 798.24L671.96 798.25L672.58 798.26L673.20 798.27L673.82 798.28L674.44 798.29L675.07 798.30L675.69 798.31L676.32 798.32L676.95 798.33L677.58 798.34L678.21 798.35L678.85 798.36L679.49 798.37L680.13 798.38L680.77 798.38L681.42 798.39L682.07 798.40L682.72 798.41L683.37 798.42L684.04 798.43L684.70 798.44L685.36 798.45L685.86 798.45L686.37 798.46L686.87 798.47L687.37 798.47L687.89 798.48L688.40 798.48L688.91 798.49L689.42 798.50L689.94 798.50L690.46 798.51L690.98 798.52L691.51 798.52L692.04 798.53L692.57 798.54L693.10 798.54L693.63 798.55L694.17 798.56L694.71 798.56L695.25 798.57L695.79 798.57L696.34 798.58L696.90 798.59L697.45 798.59L698.00 798.60" stroke="#ff0000" stroke-width="12.0" fill="none" stroke-linejoin="round" stroke-linecap="butt"/>
<path d="M276.10 681.50L277.08 680.04L278.06 678.58L279.03 677.11L280.00 675.65L280.99 674.19L281.99 672.74L283.00 671.30L284.04 669.85L285.10 668.40L286.17 666.95L287.25 665.51L288.33 664.09L289.42 662.68L290.50 661.30L291.71 659.77L292.91 658.25L294.12 656.75L295.34 655.29L296.56 653.87L297.80 652.50L299.18 651.07L300.58 649.72L301.99 648.42L303.40 647.12L304.80 645.80" stroke="#ff0000" stroke-width="12.0" fill="none" stroke-linejoin="round" stroke-linecap="butt"/>
<path d="M300.20 1078.00L302.50 1075.00L306.50 1073.80L310.50 1075.00L311.80 1078.00L311.80 1101.90L312.80 1102.00L312.80 1206.00L313.70 1210.00L318.00 1214.00L324.50 1222.00L325.80 1228.20L325.20 1246.70L324.00 1288.40L324.00 1305.80L318.30 1309.20L317.10 1328.90L316.50 1356.70L315.90 1366.00L312.50 1368.90L309.60 1369.00L306.50 1368.50L304.40 1366.00L303.20 1354.40L302.00 1336.50L296.30 1337.60L293.00 1336.50L291.60 1334.70L291.00 1283.80L285.80 1283.20L282.50 1281.00L281.80 1280.30L281.20 1258.90L274.30 1258.30L272.50 1256.50L271.90 1254.80L271.40 1232.80L271.40 1209.70L270.20 1209.00L270.20 1203.90L274.20 1203.90L274.20 1179.00L276.50 1175.50L279.50 1173.30L284.30 1171.80L288.00 1172.80L289.60 1174.20L290.90 1177.00L290.90 1190.70L291.80 1191.60L293.00 1190.70L293.00 1169.40L294.00 1169.40L294.00 1127.00L296.90 1123.00L299.30 1122.60L299.30 1099.00Z" fill="#0000ff"/>
<path d="M318.00 1226.00L318.47 1224.28L318.90 1222.45L319.31 1220.59L319.75 1218.78L320.24 1217.11L320.81 1215.66L321.50 1214.50L322.72 1213.21L324.10 1212.32L325.50 1212.00L326.96 1212.46L328.44 1213.57L330.00 1215.00L331.11 1216.14L332.23 1217.53L333.40 1219.08L334.60 1220.73L335.86 1222.39L337.19 1224.01L338.60 1225.50L339.87 1226.70L341.20 1227.90L342.57 1229.08L343.99 1230.25L345.46 1231.38L346.97 1232.49L348.51 1233.54L350.09 1234.55L351.70 1235.50L353.26 1236.36L354.85 1237.18L356.48 1237.96L358.13 1238.71L359.82 1239.41L361.55 1240.08L363.32 1240.70L365.14 1241.28L366.99 1241.81L368.90 1242.30L370.69 1242.70L372.54 1243.04L374.45 1243.34L376.40 1243.59L378.39 1243.81L380.41 1244.00L382.45 1244.16L384.50 1244.29L386.56 1244.41L388.62 1244.52L390.67 1244.61L392.70 1244.71L394.70 1244.80L396.69 1244.88L398.69 1244.95L400.69 1244.99L402.69 1245.02L404.70 1245.03L406.70 1245.03L408.70 1245.01L410.70 1244.99L412.70 1244.96L414.69 1244.92L416.67 1244.88L418.64 1244.84L420.60 1244.80L422.48 1244.76L424.34 1244.72L426.19 1244.67L428.03 1244.62L429.86 1244.56L431.69 1244.49L433.52 1244.42L435.36 1244.34L437.20 1244.25L439.05 1244.16L440.91 1244.05L442.80 1243.93L444.70 1243.80L446.63 1243.65L448.60 1243.48L450.61 1243.29L452.64 1243.08L454.69 1242.86L456.74 1242.64L458.79 1242.40L460.83 1242.17L462.85 1241.95L464.83 1241.73L466.78 1241.52L468.68 1241.33L470.52 1241.15L472.30 1241.00L474.35 1240.84L476.28 1240.71L478.11 1240.59L479.89 1240.48L481.67 1240.39L483.48 1240.29L485.36 1240.20L487.35 1240.10L489.50 1240.00L491.12 1239.92L492.81 1239.84L494.56 1239.76L496.37 1239.68L498.22 1239.59L500.12 1239.51L502.05 1239.43L504.02 1239.34L506.01 1239.26L508.02 1239.18L510.04 1239.10L512.06 1239.02L514.09 1238.94L516.11 1238.87L518.11 1238.80L520.10 1238.73L522.07 1238.66L524.00 1238.60L525.91 1238.54L527.82 1238.48L529.74 1238.43L531.65 1238.37L533.56 1238.32L535.47 1238.27L537.38 1238.22L539.29 1238.18L541.20 1238.13L543.11 1238.09L545.02 1238.05L546.93 1238.01L548.84 1237.97L550.75 1237.93L552.66 1237.90L554.58 1237.86L556.49 1237.83L558.40 1237.80L560.31 1237.77L562.19 1237.74L564.07 1237.71L565.93 1237.69L567.79 1237.66L569.64 1237.64L571.49 1237.62L573.35 1237.60L575.21 1237.58L577.09 1237.56L578.98 1237.55L580.89 1237.53L582.81 1237.52L584.77 1237.51L586.75 1237.51L588.76 1237.50L590.81 1237.50L592.90 1237.50L594.70 1237.50L596.53 1237.51L598.39 1237.51L600.27 1237.52L602.17 1237.53L604.10 1237.55L606.05 1237.56L608.01 1237.58L609.99 1237.60L611.99 1237.62L614.00 1237.64L616.02 1237.66L618.05 1237.68L620.09 1237.71L622.13 1237.73L624.18 1237.76L626.23 1237.78L628.28 1237.81L630.33 1237.83L632.38 1237.86L634.42 1237.88L636.46 1237.91L638.48 1237.93L640.50 1237.96L642.51 1237.98L644.50 1238.00L646.47 1238.02L648.43 1238.04L650.36 1238.07L652.27 1238.09L654.17 1238.11L656.06 1238.14L657.94 1238.16L659.82 1238.19L661.69 1238.22L663.57 1238.24L665.45 1238.27L667.34 1238.29L669.23 1238.32L671.14 1238.34L673.07 1238.37L675.01 1238.39L676.98 1238.42L678.98 1238.44L681.00 1238.46L683.05 1238.49L685.14 1238.51L687.26 1238.53L689.43 1238.55L691.64 1238.57L693.89 1238.58L696.20 1238.60L697.84 1238.61L699.47 1238.62L701.08 1238.63L702.68 1238.64L704.27 1238.65L705.85 1238.66L707.43 1238.67L709.00 1238.67L710.56 1238.68L712.13 1238.69L713.69 1238.69L715.25 1238.70L716.82 1238.71L718.40 1238.71L719.98 1238.72L721.57 1238.72L723.17 1238.72L724.79 1238.73L726.42 1238.73L728.06 1238.74L729.72 1238.74L731.41 1238.74L733.11 1238.75L734.84 1238.75L736.59 1238.75L738.37 1238.75L740.18 1238.76L742.02 1238.76L743.89 1238.76L745.80 1238.76L747.74 1238.76L749.72 1238.76L751.74 1238.77L753.80 1238.77L755.91 1238.77L758.05 1238.77L760.25 1238.77L762.49 1238.77L764.79 1238.77L767.13 1238.78L769.53 1238.78L771.99 1238.78L774.50 1238.78L777.07 1238.78L779.71 1238.78L782.40 1238.79L785.16 1238.79L787.99 1238.79L790.89 1238.79L793.85 1238.79L796.89 1238.80L800.00 1238.80L810.63 1238.81L822.17 1238.82L834.58 1238.83L847.86 1238.83L861.96 1238.84L876.87 1238.85L892.58 1238.85L909.04 1238.86L926.25 1238.86L944.17 1238.87L962.78 1238.87L982.07 1238.88L1002.01 1238.88L1022.57 1238.88L1043.73 1238.88L1065.47 1238.88L1087.77 1238.89L1110.59 1238.89L1133.93 1238.89L1157.75 1238.89L1182.04 1238.89L1206.77 1238.89L1231.91 1238.89L1257.44 1238.88L1283.35 1238.88L1309.60 1238.88L1336.18 1238.88L1363.06 1238.88L1390.21 1238.88L1417.62 1238.87L1445.26 1238.87L1473.11 1238.87L1501.15 1238.87L1529.34 1238.86L1557.68 1238.86L1586.13 1238.86L1614.67 1238.85L1643.29 1238.85L1671.94 1238.85L1700.63 1238.84L1729.31 1238.84L1757.97 1238.84L1786.58 1238.83L1815.13 1238.83L1843.58 1238.83L1871.91 1238.82L1900.11 1238.82L1928.14 1238.82L1955.99 1238.82L1983.63 1238.81L2011.04 1238.81L2038.20 1238.81L2065.08 1238.81L2091.65 1238.81L2117.91 1238.80L2143.81 1238.80L2169.35 1238.80L2194.49 1238.80L2219.21 1238.80L2243.50 1238.80" stroke="#0000ff" stroke-width="12.0" fill="none" stroke-linejoin="round" stroke-linecap="butt"/>
<path d="M276.00 1211.50L277.13 1209.88L278.26 1208.25L279.50 1207.00L281.13 1206.20L283.00 1205.80L284.57 1205.68L286.34 1205.73L288.19 1205.83L290.00 1205.90L291.76 1205.89L293.53 1205.86L295.29 1205.86L297.00 1205.90L298.58 1205.96L300.15 1206.04L301.64 1206.19L303.00 1206.50L304.30 1206.99L305.46 1207.63L306.50 1208.50L307.54 1209.97L308.42 1211.76L309.30 1213.50L310.15 1215.13L311.00 1216.72L312.00 1217.80L313.44 1218.12L315.00 1218.00L316.66 1217.60L318.50 1217.20L320.11 1217.15L321.94 1217.23L323.80 1217.48L325.50 1218.00L326.96 1218.87L328.28 1220.04L329.59 1221.34L331.00 1222.60L332.43 1223.72L333.93 1224.87L335.48 1226.03L337.04 1227.18L338.60 1228.30L340.13 1229.41L341.66 1230.53L343.21 1231.62L344.78 1232.65L346.40 1233.60L348.07 1234.43L349.78 1235.16L351.52 1235.84L353.27 1236.51L355.00 1237.20" stroke="#ff0000" stroke-width="12.0" fill="none" stroke-linejoin="round" stroke-linecap="butt"/>
<path d="M397.73 1244.60L398.69 1244.63L400.69 1244.67L402.69 1244.69L404.70 1244.70L406.70 1244.70L408.70 1244.69L410.70 1244.67L412.70 1244.64L414.69 1244.61L416.67 1244.57L418.64 1244.54L420.60 1244.50L422.48 1244.46L424.34 1244.43L426.19 1244.39L428.03 1244.34L429.86 1244.29L431.69 1244.24L433.52 1244.18L435.36 1244.11L437.20 1244.03L439.05 1243.94L440.91 1243.84L442.80 1243.73L444.21 1243.63M489.24 1239.81L489.50 1239.80L491.12 1239.73L492.81 1239.65L494.56 1239.58L496.37 1239.51L498.22 1239.44L500.12 1239.37L502.05 1239.30L504.02 1239.23L506.01 1239.16L508.02 1239.09L510.04 1239.03L512.06 1238.96L514.09 1238.90L516.11 1238.83L518.11 1238.77L520.10 1238.71L522.07 1238.66L524.00 1238.60L525.91 1238.54L527.82 1238.49L529.74 1238.44L531.65 1238.39L533.56 1238.34L535.47 1238.29L535.71 1238.28M580.91 1237.53L582.81 1237.52L584.77 1237.51L586.75 1237.51L588.76 1237.50L590.81 1237.50L592.90 1237.50L594.70 1237.50L596.53 1237.51L598.39 1237.51L600.27 1237.52L602.17 1237.54L604.10 1237.55L606.05 1237.57L608.01 1237.58L609.99 1237.60L611.99 1237.62L614.00 1237.64L616.02 1237.67L618.05 1237.69L620.09 1237.71L622.13 1237.74L624.18 1237.76L626.23 1237.79L627.40 1237.80M672.60 1238.31L673.07 1238.31L675.01 1238.33L676.98 1238.35L678.98 1238.37L681.00 1238.39L683.05 1238.41L685.14 1238.43L687.26 1238.44L689.43 1238.46L691.64 1238.47L693.89 1238.49L696.20 1238.50L697.84 1238.51L699.47 1238.52L701.08 1238.52L702.68 1238.53L704.27 1238.54L705.85 1238.54L707.43 1238.55L709.00 1238.56L710.56 1238.56L712.13 1238.56L713.69 1238.57L715.25 1238.57L716.82 1238.58L718.40 1238.58L719.10 1238.58M764.30 1238.59L764.79 1238.59L767.13 1238.59L769.53 1238.59L771.99 1238.59L774.50 1238.59L777.07 1238.59L779.71 1238.59L782.40 1238.59L785.16 1238.60L787.99 1238.60L790.89 1238.60L793.85 1238.60L796.89 1238.60L800.00 1238.60L810.63 1238.60L810.80 1238.60M856.00 1238.62L861.96 1238.62L876.87 1238.62L892.58 1238.63L902.50 1238.63M947.70 1238.63L962.78 1238.64L982.07 1238.64L994.20 1238.64M1039.40 1238.64L1043.73 1238.64L1065.47 1238.64L1085.90 1238.64M1131.10 1238.64L1133.93 1238.64L1157.75 1238.64L1177.60 1238.64M1222.80 1238.64L1231.91 1238.64L1257.44 1238.64L1269.30 1238.64M1314.50 1238.64L1336.18 1238.64L1361.00 1238.64M1406.20 1238.64L1417.62 1238.64L1445.26 1238.64L1452.70 1238.64M1497.90 1238.63L1501.15 1238.63L1529.34 1238.63L1544.40 1238.63M1589.60 1238.63L1614.67 1238.63L1636.10 1238.63M1681.30 1238.62L1700.63 1238.62L1727.80 1238.62M1773.00 1238.62L1786.58 1238.62L1815.13 1238.62L1819.50 1238.62M1864.70 1238.61L1871.91 1238.61L1900.11 1238.61L1911.20 1238.61M1956.40 1238.61L1983.63 1238.61L2002.90 1238.61M2048.10 1238.60L2065.08 1238.60L2091.65 1238.60L2094.60 1238.60M2139.80 1238.60L2143.81 1238.60L2169.35 1238.60L2186.30 1238.60M2231.50 1238.60L2243.50 1238.60" stroke="#ff0000" stroke-width="12.0" fill="none" stroke-linejoin="round" stroke-linecap="butt"/>
<text transform="translate(112.95 317.25) rotate(-90) scale(1.184 1)" font-family="'WenQuanYi Zen Hei', sans-serif" font-size="56" font-style="italic" letter-spacing="0" fill="#262626" stroke="#262626" stroke-width="0">τ</text>
<text transform="translate(140.00 287.00) rotate(-90) scale(1 1)" font-family="'Liberation Sans', sans-serif" font-size="50.5" font-style="normal" letter-spacing="0" fill="#262626" stroke="#262626" stroke-width="0.9">1</text>
<text transform="translate(111.05 238.70) rotate(-90) scale(1 1)" font-family="'Liberation Sans', sans-serif" font-size="60" font-style="normal" letter-spacing="2" fill="#262626" stroke="#262626" stroke-width="0.9">(kN)</text>
<text transform="translate(113.00 821.50) rotate(-90) scale(1.184 1)" font-family="'WenQuanYi Zen Hei', sans-serif" font-size="56" font-style="italic" letter-spacing="0" fill="#262626" stroke="#262626" stroke-width="0">τ</text>
<text transform="translate(142.00 789.50) rotate(-90) scale(1 1)" font-family="'Liberation Sans', sans-serif" font-size="50.5" font-style="normal" letter-spacing="0" fill="#262626" stroke="#262626" stroke-width="0.9">2</text>
<text transform="translate(111.05 742.45) rotate(-90) scale(1 1)" font-family="'Liberation Sans', sans-serif" font-size="60" font-style="normal" letter-spacing="1.6" fill="#262626" stroke="#262626" stroke-width="0.9">(kN)</text>
<text transform="translate(78.85 1358.20) rotate(-90) scale(1.184 1)" font-family="'WenQuanYi Zen Hei', sans-serif" font-size="56" font-style="italic" letter-spacing="0" fill="#262626" stroke="#262626" stroke-width="0">τ</text>
<text transform="translate(107.40 1325.40) rotate(-90) scale(1 1)" font-family="'Liberation Sans', sans-serif" font-size="50.5" font-style="normal" letter-spacing="0" fill="#262626" stroke="#262626" stroke-width="0.9">3</text>
<text transform="translate(76.55 1279.95) rotate(-90) scale(1 1)" font-family="'Liberation Sans', sans-serif" font-size="60" font-style="normal" letter-spacing="1" fill="#262626" stroke="#262626" stroke-width="0.9">(kN·m)</text>
<rect x="1813.5" y="104.20" width="369" height="213.60" fill="#ffffff" stroke="#262626" stroke-width="4.5"/>
<path d="M1836 163.45H2066" stroke="#0000ff" stroke-width="12.7"/>
<path d="M1836 259.95H1883M1928 259.95H1975M2019 259.95H2066" stroke="#ff0000" stroke-width="11.5"/>
<rect x="1813.5" y="609.40" width="369" height="213.60" fill="#ffffff" stroke="#262626" stroke-width="4.5"/>
<path d="M1836 667.45H2066" stroke="#0000ff" stroke-width="12.7"/>
<path d="M1836 763.90H1883M1928 763.90H1975M2019 763.90H2066" stroke="#ff0000" stroke-width="11.5"/>
<rect x="1813.5" y="1111.40" width="369" height="213.60" fill="#ffffff" stroke="#262626" stroke-width="4.5"/>
<path d="M1836 1169.45H2066" stroke="#0000ff" stroke-width="12.7"/>
<path d="M1836 1266.40H1883M1928 1266.40H1975M2019 1266.40H2066" stroke="#ff0000" stroke-width="11.5"/>
<text transform="translate(2076.45 172.85) scale(1.232 1)" font-family="'WenQuanYi Zen Hei', sans-serif" font-size="49.4" font-style="italic" letter-spacing="0" fill="#000" stroke="#000" stroke-width="0">τ</text>
<text transform="translate(2076.50 271.15) scale(1.232 1)" font-family="'WenQuanYi Zen Hei', sans-serif" font-size="49.4" font-style="italic" letter-spacing="0" fill="#000" stroke="#000" stroke-width="0">τ</text>
<text transform="translate(2106.70 198.40) scale(1 1)" font-family="'Liberation Sans', sans-serif" font-size="44.4" font-style="normal" letter-spacing="0" fill="#000" stroke="#000" stroke-width="1">c1</text>
<text transform="translate(2106.90 296.20) scale(1 1)" font-family="'Liberation Sans', sans-serif" font-size="44.4" font-style="normal" letter-spacing="0" fill="#000" stroke="#000" stroke-width="1">T1</text>
<text transform="translate(2076.45 678.05) scale(1.232 1)" font-family="'WenQuanYi Zen Hei', sans-serif" font-size="49.4" font-style="italic" letter-spacing="0" fill="#000" stroke="#000" stroke-width="0">τ</text>
<text transform="translate(2076.50 776.35) scale(1.232 1)" font-family="'WenQuanYi Zen Hei', sans-serif" font-size="49.4" font-style="italic" letter-spacing="0" fill="#000" stroke="#000" stroke-width="0">τ</text>
<text transform="translate(2106.70 703.60) scale(1 1)" font-family="'Liberation Sans', sans-serif" font-size="44.4" font-style="normal" letter-spacing="0" fill="#000" stroke="#000" stroke-width="1">c2</text>
<text transform="translate(2106.90 801.40) scale(1 1)" font-family="'Liberation Sans', sans-serif" font-size="44.4" font-style="normal" letter-spacing="0" fill="#000" stroke="#000" stroke-width="1">T2</text>
<text transform="translate(2076.45 1180.05) scale(1.232 1)" font-family="'WenQuanYi Zen Hei', sans-serif" font-size="49.4" font-style="italic" letter-spacing="0" fill="#000" stroke="#000" stroke-width="0">τ</text>
<text transform="translate(2076.50 1278.35) scale(1.232 1)" font-family="'WenQuanYi Zen Hei', sans-serif" font-size="49.4" font-style="italic" letter-spacing="0" fill="#000" stroke="#000" stroke-width="0">τ</text>
<text transform="translate(2106.70 1205.60) scale(1 1)" font-family="'Liberation Sans', sans-serif" font-size="44.4" font-style="normal" letter-spacing="0" fill="#000" stroke="#000" stroke-width="1">c3</text>
<text transform="translate(2106.90 1303.40) scale(1 1)" font-family="'Liberation Sans', sans-serif" font-size="44.4" font-style="normal" letter-spacing="0" fill="#000" stroke="#000" stroke-width="1">T3</text>
</svg></body></html>
